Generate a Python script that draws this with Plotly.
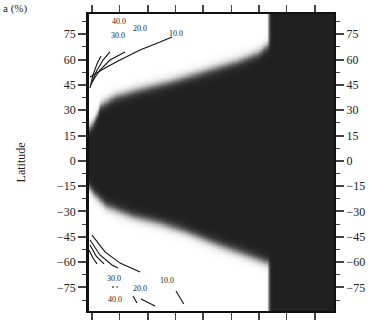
import numpy as np
import plotly.graph_objects as go

# Edge of the dark equatorial band (mid-transition latitude) at sampled x positions
edge_x = [-0.05, 0.058, 0.165, 0.416, 0.829, 1.42, 2.03, 2.62, 3.0, 3.14]
north_edge = [19, 24, 33, 38, 42, 47, 53, 59, 64, 68]
south_x = [-0.05, 0.02, 0.27, 0.74, 1.22, 1.69, 2.28, 2.88, 3.12]
south_edge = [-15, -19, -27, -33, -37, -42, -50, -57, -60]
white_end_x = 3.18  # beyond this x the field is dark at every latitude

# Contour lines (x, latitude) and their labels
contours_north = {
    "10.0": ([-0.032, 0.237, 0.506, 0.865, 1.224, 1.439], [49.7, 55.0, 59.7, 65.7, 70.4, 73.4]),
    "20.0": ([0.004, 0.147, 0.327, 0.596], [46.7, 53.8, 59.7, 64.5]),
    "30.0": ([-0.014, 0.076, 0.201, 0.327], [44.9, 52.6, 59.7, 64.5]),
    "40.0": ([-0.032, 0.022, 0.093, 0.165], [43.1, 50.9, 57.4, 62.1]),
}
contours_south = {
    "10.0": ([0.004, 0.237, 0.506, 0.865], [-44.0, -54.0, -60.6, -65.9]),
    "20.0": ([-0.032, 0.147, 0.363, 0.470], [-46.9, -55.8, -61.7, -63.5]),
    "30.0": ([-0.032, 0.076, 0.219], [-49.9, -56.4, -61.1]),
    "40.0": ([-0.05, 0.022, 0.093], [-52.9, -57.6, -61.1]),
}
segments_south = [
    ([0.739, 0.811], [-80.1, -84.3]),
    ([0.883, 1.134], [-81.9, -86.0]),
    ([1.51, 1.65], [-77.1, -84.9]),
    ([0.363, 0.40], [-74.8, -74.8]),
    ([0.44, 0.47], [-74.8, -74.8]),
]
labels_north = [("40.0", 0.49, 82.3), ("30.0", 0.47, 74.0), ("20.0", 0.865, 78.7), ("10.0", 1.51, 75.7)]
labels_south = [("30.0", 0.40, -70.0), ("20.0", 0.865, -75.4), ("10.0", 1.35, -71.2), ("40.0", 0.42, -81.9)]

lat_ticks = [-75, -60, -45, -30, -15, 0, 15, 30, 45, 60, 75]

# Build the shaded field from the band edges
xs = np.arange(-0.05, 4.36, 0.015)
lats = np.arange(-89, 87.01, 0.4)
nb = np.interp(xs, edge_x, north_edge)
sb = np.interp(xs, south_x, south_edge)
X, L = np.meshgrid(xs, lats)
sig = lambda v: 1.0 / (1.0 + np.exp(-v))
white = sig((L - nb[None, :]) / 1.5) + sig((sb[None, :] - L) / 1.5)
white = np.clip(white, 0, 1) * sig((white_end_x - X) / 0.012)
z = np.round(1 - white, 3)

fig = go.Figure()
fig.add_trace(go.Heatmap(x=xs, y=lats, z=z, zmin=0, zmax=1, showscale=False,
                         colorscale=[[0, "#ffffff"], [1, "#202020"]], hoverinfo="skip"))

for name, (cx, cy) in list(contours_north.items()) + list(contours_south.items()):
    fig.add_trace(go.Scatter(x=cx, y=cy, mode="lines", line=dict(color="#111", width=1.1),
                             showlegend=False, hoverinfo="skip"))
for cx, cy in segments_south:
    fig.add_trace(go.Scatter(x=cx, y=cy, mode="lines", line=dict(color="#111", width=1.1),
                             showlegend=False, hoverinfo="skip"))
# carrier for the right-hand latitude axis
fig.add_trace(go.Scatter(x=[None], y=[None], yaxis="y2", showlegend=False, hoverinfo="skip"))

serif = "Liberation Serif"
for txt, lx, ly in labels_north + labels_south:
    fig.add_annotation(x=lx, y=ly, text=txt, showarrow=False,
                       font=dict(family=serif, size=8, color="#222"))

fig.add_annotation(xref="paper", yref="paper", x=-0.36, y=1.047, xanchor="left", yanchor="top",
                   text="a (%)", showarrow=False, font=dict(family=serif, size=11, color="#222"))
fig.add_annotation(xref="paper", yref="paper", x=-0.278, y=0.5, xanchor="center", yanchor="middle",
                   text="Latitude", textangle=-90, showarrow=False,
                   font=dict(family=serif, size=12, color="#222"))

yr = [-89, 87]
axis_font = dict(family=serif, size=12, color="#222")
fig.update_layout(
    width=372, height=324,
    margin=dict(l=89, r=38, t=14, b=13, autoexpand=False),
    paper_bgcolor="white", plot_bgcolor="white",
    xaxis=dict(range=[-0.05, 4.344], showgrid=False, zeroline=False, showticklabels=False,
               tickmode="linear", tick0=0, dtick=1, ticks="outside", ticklen=7, tickwidth=1.5,
               minor=dict(dtick=0.5, tick0=0, ticks="outside", ticklen=4, tickwidth=1.2),
               showline=True, linecolor="#111", linewidth=2, mirror="allticks"),
    yaxis=dict(range=yr, showgrid=False, zeroline=False, tickmode="array", tickvals=lat_ticks,
               ticks="outside", ticklen=8, tickwidth=1.5, tickfont=axis_font,
               minor=dict(tickmode="linear", tick0=0, dtick=7.5, ticks="outside", ticklen=4, tickwidth=1.2),
               showline=True, linecolor="#111", linewidth=2.5),
    yaxis2=dict(range=yr, overlaying="y", side="right", showgrid=False, zeroline=False,
                tickmode="array", tickvals=lat_ticks, ticks="outside", ticklen=8, tickwidth=1.5,
                tickfont=axis_font,
                minor=dict(tickmode="linear", tick0=0, dtick=7.5, ticks="outside", ticklen=4, tickwidth=1.2),
                showline=True, linecolor="#111", linewidth=2),
)

fig.write_html("out.html")
